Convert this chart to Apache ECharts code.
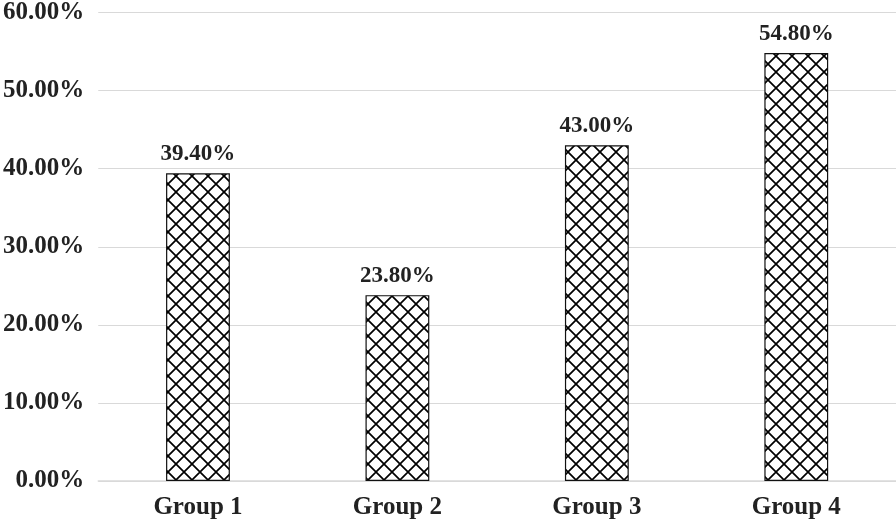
<!DOCTYPE html>
<html><head><meta charset="utf-8">
<script src="https://cdn.jsdelivr.net/npm/echarts@6/dist/echarts.min.js"></script>
<style>html,body{margin:0;padding:0;background:#fff}#c{width:896px;height:524px}</style>
</head><body><div id="c"></div>
<script>
const categories = ['Group 1', 'Group 2', 'Group 3', 'Group 4'];
const values = [39.4, 23.8, 43.0, 54.8];
const yTicks = [0, 10, 20, 30, 40, 50, 60];

function makePattern() {
  const s = 16;
  const cv = document.createElement('canvas');
  cv.width = s; cv.height = s;
  const ctx = cv.getContext('2d');
  ctx.fillStyle = '#fff';
  ctx.fillRect(0, 0, s, s);
  ctx.strokeStyle = '#000';
  ctx.lineWidth = 1.7;
  ctx.beginPath();
  ctx.moveTo(0, 0); ctx.lineTo(s, s);
  ctx.moveTo(s, 0); ctx.lineTo(0, s);
  ctx.stroke();
  return cv;
}

const font = '"Liberation Serif", "Times New Roman", serif';
const chart = echarts.init(document.getElementById('c'));
chart.setOption({
  animation: false,
  grid: { left: 97, right: 0, top: 12, bottom: 43, containLabel: false },
  xAxis: {
    type: 'category', data: categories,
    axisLine: { lineStyle: { color: '#d9d9d9', width: 1.5 } },
    axisTick: { show: false },
    axisLabel: { color: '#222', fontFamily: font, fontWeight: 'bold', fontSize: 25, margin: 14 }
  },
  yAxis: {
    type: 'value', min: yTicks[0], max: yTicks[yTicks.length - 1], interval: 10,
    axisLine: { show: false }, axisTick: { show: false },
    splitLine: { lineStyle: { color: '#d9d9d9', width: 1.2 } },
    axisLabel: { color: '#222', fontFamily: font, fontWeight: 'bold', fontSize: 25, margin: 14,
      formatter: v => v.toFixed(2) + '%' }
  },
  series: [{
    type: 'bar', data: values, barWidth: '32%',
    itemStyle: { color: { image: makePattern(), repeat: 'repeat' }, borderColor: '#111', borderWidth: 1.2 },
    label: { show: true, position: 'top', distance: 8, color: '#222', fontFamily: font,
      fontWeight: 'bold', fontSize: 23, formatter: p => p.value.toFixed(2) + '%' }
  }]
});
</script></body></html>
